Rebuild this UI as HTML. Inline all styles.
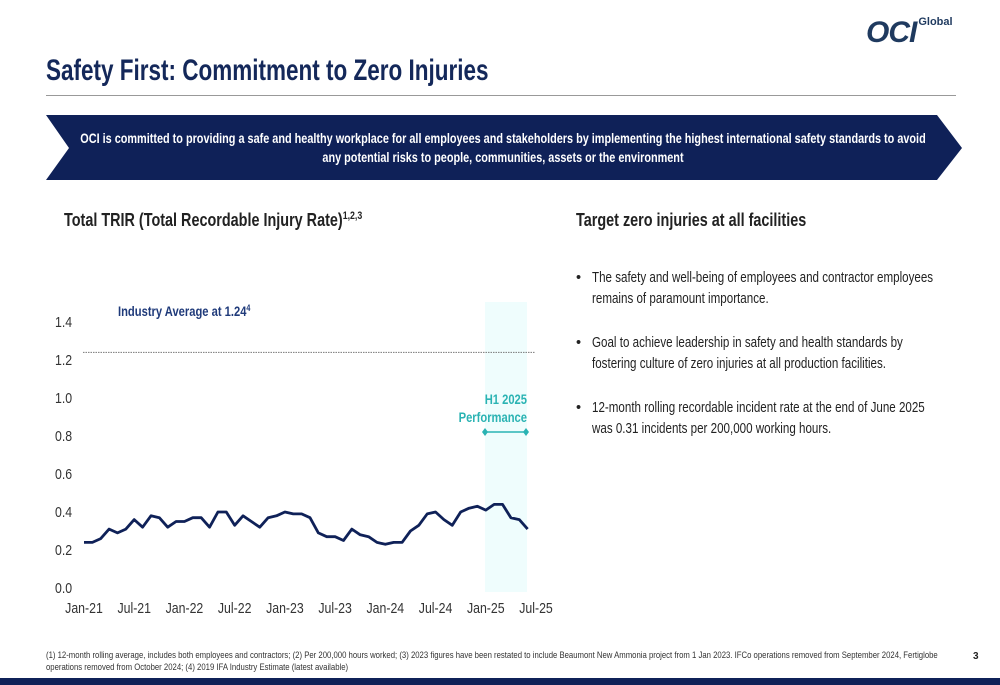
<!DOCTYPE html>
<html><head><meta charset="utf-8">
<style>
body{margin:0;width:1000px;height:685px;background:#fff;position:relative;overflow:hidden;font-family:"Liberation Sans",sans-serif;color:#222}
.abs{position:absolute}
.cond{transform:scaleX(0.8);transform-origin:left top;white-space:nowrap}
</style></head><body>
<div class="abs" style="left:866px;top:16px;font-weight:bold;font-style:italic;font-size:30px;color:#1f3a5f;letter-spacing:-1px">OCI<span style="font-size:11px;font-style:normal;vertical-align:top;margin-left:2px;letter-spacing:0">Global</span></div>
<div class="abs cond" style="left:46px;top:54px;font-size:30px;font-weight:bold;color:#14285a;transform:scaleX(0.75)">Safety First: Commitment to Zero Injuries</div>
<div class="abs" style="left:46px;top:95px;width:910px;height:1px;background:#999"></div>
<svg class="abs" style="left:0;top:0" width="1000" height="685">
<polygon points="46,115 937,115 962,148 937,180 46,180 69,148" fill="#0f2158"/>
<rect x="0" y="678" width="1000" height="7" fill="#0f2158"/>
</svg>
<div class="abs" style="left:-97px;top:129px;width:1200px;text-align:center;color:#fff;font-weight:bold;font-size:13.5px;line-height:19px;transform:scaleX(0.805);transform-origin:center top;white-space:nowrap">OCI is committed to providing a safe and healthy workplace for all employees and stakeholders by implementing the highest international safety standards to avoid<br>any potential risks to people, communities, assets or the environment</div>
<div class="abs cond" style="left:64px;top:210px;font-size:18px;font-weight:bold;color:#222">Total TRIR (Total Recordable Injury Rate)<sup style="font-size:11px">1,2,3</sup></div>
<div class="abs cond" style="left:576px;top:210px;font-size:18px;font-weight:bold;color:#222">Target zero injuries at all facilities</div>
<div class="abs" style="left:576px;top:268px;width:380px;font-size:14.5px;line-height:21px;color:#222">
<div style="position:absolute;top:0;left:0;height:42px"><span style="position:absolute;left:0">•</span><div class="cond" style="position:absolute;left:16px">The safety and well-being of employees and contractor employees<br>remains of paramount importance.</div></div>
<div style="position:absolute;top:65px;left:0"><span style="position:absolute;left:0">•</span><div class="cond" style="position:absolute;left:16px">Goal to achieve leadership in safety and health standards by<br>fostering culture of zero injuries at all production facilities.</div></div>
<div style="position:absolute;top:130px;left:0"><span style="position:absolute;left:0">•</span><div class="cond" style="position:absolute;left:16px">12-month rolling recordable incident rate at the end of June 2025<br>was 0.31 incidents per 200,000 working hours.</div></div>
</div>
<svg id="chart" class="abs" style="left:0;top:0" width="1000" height="685"></svg>
<div class="abs cond" style="left:46px;top:650px;font-size:9.5px;line-height:12px;color:#333;transform:scaleX(0.815)">(1) 12-month rolling average, includes both employees and contractors; (2) Per 200,000 hours worked; (3) 2023 figures have been restated to include Beaumont New Ammonia project from 1 Jan 2023. IFCo operations removed from September 2024, Fertiglobe<br>operations removed from October 2024; (4) 2019 IFA Industry Estimate (latest available)</div>
<div class="abs" style="left:973px;top:651px;font-size:10px;font-weight:bold">3</div>
<script>
const trirValues=[0.24,0.24,0.26,0.31,0.29,0.31,0.36,0.32,0.38,0.37,0.32,0.35,
0.35,0.37,0.37,0.32,0.40,0.40,0.33,0.38,0.35,0.32,0.37,0.38,
0.40,0.39,0.39,0.37,0.29,0.27,0.27,0.25,0.31,0.28,0.27,0.24,
0.23,0.24,0.24,0.30,0.33,0.39,0.40,0.36,0.33,0.40,0.42,0.43,
0.41,0.44,0.44,0.37,0.36,0.31];
const xTickLabels=["Jan-21","Jul-21","Jan-22","Jul-22","Jan-23","Jul-23","Jan-24","Jul-24","Jan-25","Jul-25"];
const yTicks=[0,0.2,0.4,0.6,0.8,1.0,1.2,1.4];
const industryAvg=[1.24];
const NS="http://www.w3.org/2000/svg";
const svg=document.getElementById('chart');
const x0=84,pxPerMonth=(536-84)/54;
const xs=i=>x0+i*pxPerMonth;
const ys=v=>588-v*190;
function mk(t,a){const e=document.createElementNS(NS,t);for(const k in a)e.setAttribute(k,a[k]);svg.appendChild(e);return e;}
function txt(s,x,y,size,anchor,fill,bold,sx){const t=mk('text',{x:0,y:0,'font-size':size,fill:fill,'text-anchor':anchor,'font-family':'Liberation Sans, sans-serif',transform:`translate(${x},${y}) scale(${sx||0.8},1)`});if(bold)t.setAttribute('font-weight','bold');t.textContent=s;return t;}
let band=mk('rect',{x:485,y:302,width:42,height:290,fill:'#effdfd'});


yTicks.forEach(v=>{const t=txt(v.toFixed(1),55,ys(v)+5,14.5,'start','#333',false,0.85);

});
xTickLabels.forEach((l,i)=>{const t=txt(l,xs(i*6),613,14.5,'middle','#333',false,0.85);

});
let ind=mk('line',{x1:83,x2:535,y1:ys(industryAvg[0]),y2:ys(industryAvg[0]),stroke:'#777','stroke-width':1,'stroke-dasharray':'1.5,1'});


let il=mk('text',{x:0,y:0,'font-size':14,'font-weight':'bold',fill:'#1f3a7a','font-family':'Liberation Sans, sans-serif',transform:'translate(118,316) scale(0.8,1)'});
il.innerHTML='Industry Average at 1.24<tspan font-size="9" dy="-5">4</tspan>';


const teal='#2ab3b3';
let h1=txt('H1 2025',527,404,14,'end',teal,true);


let h2=txt('Performance',527,422,14,'end',teal,true);


let hl=mk('line',{x1:485,x2:526,y1:432,y2:432,stroke:teal,'stroke-width':1.5});


[485,526].forEach(x=>{const d=mk('polygon',{points:`${x},428 ${x+3},432 ${x},436 ${x-3},432`,fill:teal});

});
let p=mk('polyline',{points:trirValues.map((v,i)=>xs(i)+','+ys(v)).join(' '),fill:'none',stroke:'#0f2158','stroke-width':2.8,'stroke-linejoin':'round'});


</script>
</body></html>
